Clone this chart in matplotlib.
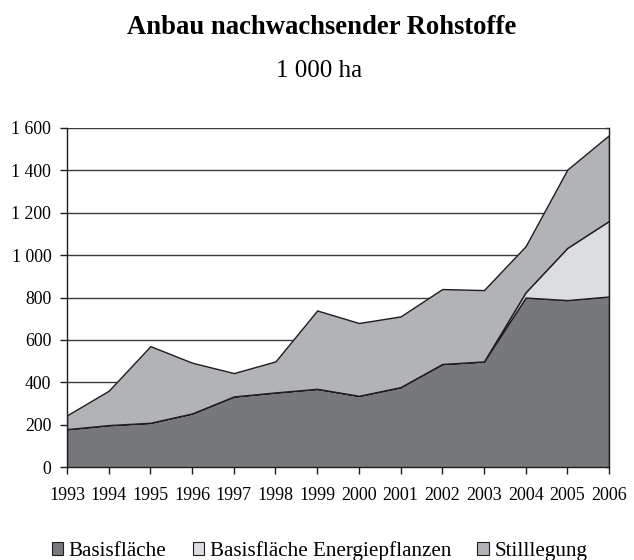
import matplotlib
matplotlib.use('Agg')
import matplotlib.pyplot as plt
from matplotlib.patches import Patch
from matplotlib.ticker import FuncFormatter, MultipleLocator

# Anbau nachwachsender Rohstoffe, 1 000 ha
years = [1993, 1994, 1995, 1996, 1997, 1998, 1999,
         2000, 2001, 2002, 2003, 2004, 2005, 2006]
basis = [180, 199, 210, 254, 334, 353, 370, 337, 378, 487, 499, 800, 788, 805]
energie = [0, 0, 0, 0, 0, 0, 0, 0, 0, 0, 0, 25, 246, 356]
stilllegung = [65, 162, 361, 239, 110, 146, 369, 343, 333, 353, 336, 217, 369, 404]

labels = ['Basisfläche', 'Basisfläche Energiepflanzen', 'Stilllegung']
colors = ['#77787c', '#dcdde0', '#b2b3b7']

plt.rcParams['font.family'] = ['Liberation Serif', 'DejaVu Serif']


def fmt_thousands(v, pos):
    return '{:,.0f}'.format(v).replace(',', ' ')


def main():
    fig = plt.figure(figsize=(6.34, 5.60), dpi=100)
    ax = fig.add_axes([0.1057, 0.1655, 0.8549, 0.6064])

    ax.stackplot(years, basis, energie, stilllegung, colors=colors,
                 edgecolor='#1e1e1e', linewidth=1.0, zorder=2)

    ax.set_xlim(years[0], years[-1])
    ax.set_ylim(0, 1600)
    ax.set_xticks(years)
    ax.set_xticklabels([str(y) for y in years])
    ax.yaxis.set_major_locator(MultipleLocator(200))
    ax.yaxis.set_major_formatter(FuncFormatter(fmt_thousands))

    ax.grid(axis='y', color='#3c3c3c', linewidth=1.0, zorder=0)
    ax.set_axisbelow(True)

    for s in ['left', 'bottom', 'right']:
        ax.spines[s].set_color('#1e1e1e')
        ax.spines[s].set_linewidth(1.0)
    ax.spines['top'].set_visible(False)

    ax.tick_params(axis='x', length=5, width=1.0, pad=9.5, labelsize=13,
                   color='#1e1e1e')
    ax.tick_params(axis='y', length=5, width=1.0, pad=6.3, labelsize=12.8,
                   color='#1e1e1e')

    # small inward ticks on the right spine
    sec = ax.secondary_yaxis('right')
    sec.yaxis.set_major_locator(MultipleLocator(200))
    sec.tick_params(direction='in', length=3, width=1.0, labelright=False,
                    color='#1e1e1e')
    sec.spines['right'].set_visible(False)

    fig.text(0.507, 0.939, 'Anbau nachwachsender Rohstoffe', ha='center',
             va='baseline', fontsize=19.2, fontweight='bold')
    fig.text(0.504, 0.863, '1 000 ha', ha='center', va='baseline',
             fontsize=18)

    handles = [Patch(facecolor=c, edgecolor='#1e1e1e', linewidth=0.8)
               for c in colors]
    fig.legend(handles, labels, loc='center', bbox_to_anchor=(0.504, 0.016),
               ncol=3, frameon=False, fontsize=15.2, handlelength=0.55,
               handleheight=0.55, handletextpad=0.25, columnspacing=1.25,
               borderpad=0, borderaxespad=0)

    plt.savefig('out.png', dpi=100)


if __name__ == '__main__':
    main()
